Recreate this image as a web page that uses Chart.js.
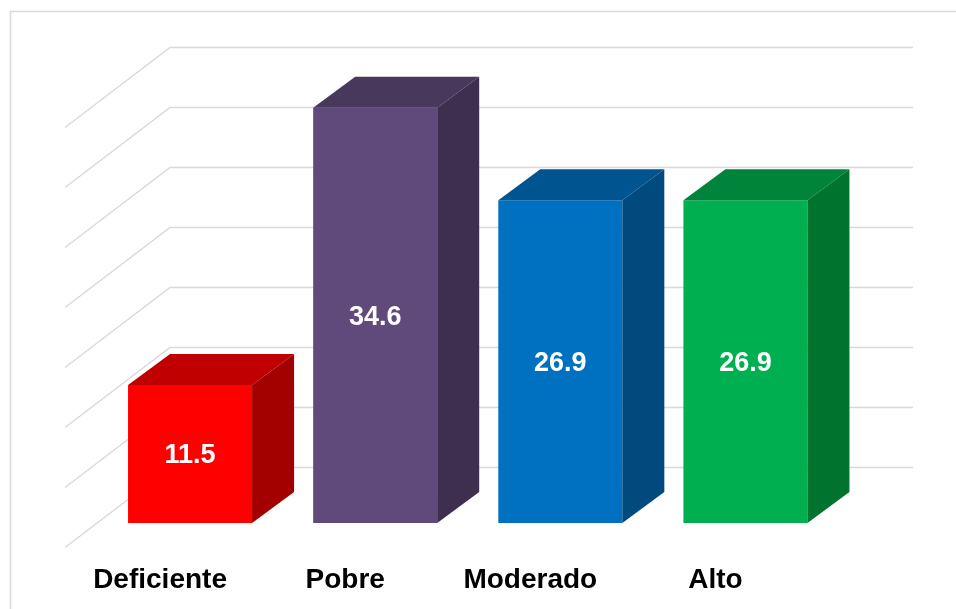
<!DOCTYPE html>
<html>
<head>
<meta charset="utf-8">
<script src="https://cdn.jsdelivr.net/npm/chart.js@4/dist/chart.umd.min.js"></script>
<style>
  html, body { margin: 0; padding: 0; background: #fff; }
  canvas { display: block; }
</style>
</head>
<body>
<canvas id="nivelChart" width="956" height="609"></canvas>
<script>
const CATEGORIES = ['Deficiente', 'Pobre', 'Moderado', 'Alto'];
const VALUES = [11.5, 34.6, 26.9, 26.9];
const GRID_TICKS = [0, 5, 10, 15, 20, 25, 30, 35];

const FRONT_COLORS = ['#FF0000', '#604A7B', '#0070C0', '#00B050'];
const TOP_COLORS = ['#C00000', '#48385C', '#00548F', '#00843C'];
const SIDE_COLORS = ['#A30000', '#3E2E50', '#004A7E', '#00732F'];

// oblique depth of each bar, and of the back wall
const DEPTH_X = 42, DEPTH_Y = 31;
const WALL_DY = 56, WALL_DIAG_X = 105, WALL_DIAG_Y = 80;
const FONT = "'Liberation Sans', Arial, sans-serif";

const frame3d = {
    id: 'frame3d',
    beforeDatasetsDraw(chart) {
        const ctx = chart.ctx;
        const area = chart.chartArea;
        const y = chart.scales.y;
        ctx.save();
        // outer border (top and left only show in the picture)
        ctx.strokeStyle = '#d9d9d9';
        ctx.lineWidth = 1.5;
        ctx.beginPath();
        ctx.moveTo(10.5, 620);
        ctx.lineTo(10.5, 11.5);
        ctx.lineTo(970, 11.5);
        ctx.stroke();

        // back wall and side wall gridlines
        const wallLeft = area.left + 72.5;
        const wallRight = area.right + 75;
        GRID_TICKS.forEach(v => {
            const py = Math.round(y.getPixelForValue(v) - WALL_DY) + 0.5;
            ctx.beginPath();
            ctx.moveTo(wallLeft - WALL_DIAG_X, py + WALL_DIAG_Y);
            ctx.lineTo(wallLeft, py);
            ctx.lineTo(wallRight, py);
            ctx.stroke();
        });
        ctx.restore();
    },
    afterDatasetsDraw(chart) {
        const ctx = chart.ctx;
        const meta = chart.getDatasetMeta(0);
        ctx.save();
        meta.data.forEach((bar, i) => {
            const p = bar.getProps(['x', 'y', 'base', 'width'], true);
            const x1 = p.x - p.width / 2, x2 = p.x + p.width / 2;
            const top = p.y, bottom = p.base;

            // top face
            ctx.fillStyle = TOP_COLORS[i];
            ctx.beginPath();
            ctx.moveTo(x1, top);
            ctx.lineTo(x1 + DEPTH_X, top - DEPTH_Y);
            ctx.lineTo(x2 + DEPTH_X, top - DEPTH_Y);
            ctx.lineTo(x2, top);
            ctx.closePath();
            ctx.fill();

            // right side face
            ctx.fillStyle = SIDE_COLORS[i];
            ctx.beginPath();
            ctx.moveTo(x2, top);
            ctx.lineTo(x2 + DEPTH_X, top - DEPTH_Y);
            ctx.lineTo(x2 + DEPTH_X, bottom - DEPTH_Y);
            ctx.lineTo(x2, bottom);
            ctx.closePath();
            ctx.fill();

            // value label on the front face
            ctx.fillStyle = '#ffffff';
            ctx.font = 'bold 27px ' + FONT;
            ctx.textAlign = 'center';
            ctx.textBaseline = 'middle';
            ctx.fillText(VALUES[i].toFixed(1), p.x, (top + bottom) / 2 + 2);
        });
        ctx.restore();
    }
};

new Chart(document.getElementById('nivelChart'), {
    type: 'bar',
    data: {
        labels: CATEGORIES,
        datasets: [{
            data: VALUES,
            backgroundColor: FRONT_COLORS,
            borderWidth: 0,
            categoryPercentage: 1,
            barPercentage: 0.67
        }]
    },
    options: {
        responsive: false,
        animation: false,
        devicePixelRatio: 1,
        layout: { padding: { top: 103, left: 97.5, right: 118, bottom: 0 } },
        plugins: {
            legend: { display: false },
            tooltip: { enabled: false }
        },
        scales: {
            x: {
                grid: { display: false, drawTicks: false },
                border: { display: false },
                ticks: {
                    color: '#000000',
                    font: { family: FONT, size: 28, weight: 'bold' },
                    labelOffset: -30,
                    padding: 40,
                    maxRotation: 0,
                    autoSkip: false
                },
                afterFit: scale => { scale.height = 86; }
            },
            y: {
                display: false,
                min: 0,
                max: 35
            }
        }
    },
    plugins: [frame3d]
});
</script>
</body>
</html>
